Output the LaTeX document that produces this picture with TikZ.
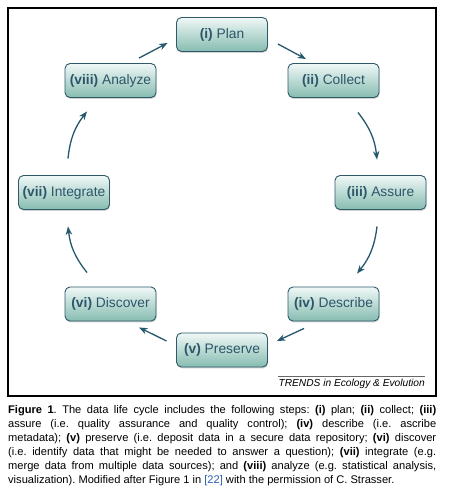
\documentclass[tikz,border=0pt]{standalone}
\usepackage{fontspec}
\setmainfont{Liberation Sans}
\usetikzlibrary{arrows.meta,shadows,calc}
\definecolor{boxtop}{HTML}{F0F8F6}
\definecolor{boxbot}{HTML}{86BCB1}
\definecolor{boxedge}{HTML}{2E5A6A}
\definecolor{boxtext}{HTML}{2C566A}
\definecolor{arrcol}{HTML}{25586C}
\definecolor{refblue}{HTML}{2A5DB0}
\tikzset{
  stepbox/.style={rounded corners=5pt, draw=boxedge, line width=0.9pt,
    top color=boxtop, bottom color=boxbot, minimum width=91pt, minimum height=34pt,
    inner sep=0pt, text=boxtext, font=\fontsize{13.8}{16}\selectfont,
    drop shadow={shadow xshift=0.6pt, shadow yshift=-1.4pt, opacity=0.35}},
  arr/.style={draw=arrcol, line width=1.3pt, -{Stealth[length=8.5pt,width=6.5pt]}}
}
\begin{document}
\begin{tikzpicture}[x=1pt,y=1pt]
\useasboundingbox (0,0) rectangle (448,-498);
\fill[white] (0,0) rectangle (448,-498);
\draw[line width=1.2pt] (8,-8) rectangle (436,-396);

\node[stepbox] (plan) at (222,-34.5) {\textbf{(i)} Plan};
\node[stepbox] (collect) at (333.5,-80.5) {\textbf{(ii)} Collect};
\node[stepbox] (assure) at (380.5,-192.5) {\textbf{(iii)} Assure};
\node[stepbox] (describe) at (333.5,-304) {\textbf{(iv)} Describe};
\node[stepbox] (preserve) at (222,-350) {\textbf{(v)} Preserve};
\node[stepbox] (discover) at (110.5,-304) {\textbf{(vi)} Discover};
\node[stepbox] (integrate) at (64,-192.5) {\textbf{(vii)} Integrate};
\node[stepbox] (analyze) at (110.5,-80.5) {\textbf{(viii)} Analyze};

\draw[arr] ($(plan.east)+(10,-9.5)$) -- ($(collect.north)+(-27.5,4)$);
\draw[arr] ($(collect.south)+(24.5,-14.5)$) to[bend left=16] ($(assure.north)+(-3.5,15.5)$);
\draw[arr] ($(assure.south)+(-3.5,-16.5)$) to[bend left=16] ($(describe.north)+(23.5,13)$);
\draw[arr] ($(describe.south)+(-29.5,-7)$) -- ($(preserve.east)+(9,9)$);
\draw[arr] ($(preserve.west)+(-9.5,9)$) -- ($(discover.south)+(28.5,-6)$);
\draw[arr] ($(discover.north)+(-23.5,14)$) to[bend left=16] ($(integrate.south)+(4,-16.5)$);
\draw[arr] ($(integrate.north)+(4,16.5)$) to[bend left=16] ($(analyze.south)+(-23.5,-13.5)$);
\draw[arr] ($(analyze.north)+(28.5,5)$) -- ($(plan.west)+(-8.5,-8.5)$);

\node[anchor=base east, inner sep=0pt, font=\fontsize{10.2}{12}\selectfont\itshape] (trends) at (425,-386.5) {TRENDS in Ecology \& Evolution};
\draw[line width=0.5pt, black!60] ($(trends.north west)+(0,2.5)$) -- ($(trends.north east)+(0,2.5)$);

\node[anchor=north west, inner sep=0pt, text width=428pt, align=justify,
  font=\fontsize{11.1}{13.9}\selectfont] (caption) at (8,-405.5)
{\frenchspacing\hyphenpenalty=10000\exhyphenpenalty=10000
\textbf{Figure 1}. The data life cycle includes the following steps: \textbf{(i)} plan; \textbf{(ii)} collect; \textbf{(iii)}\linebreak
assure (i.e. quality assurance and quality control); \textbf{(iv)} describe (i.e. ascribe\linebreak
metadata); \textbf{(v)} preserve (i.e. deposit data in a secure data repository; \textbf{(vi)} discover\linebreak
(i.e. identify data that might be needed to answer a question); \textbf{(vii)} integrate (e.g.\linebreak
merge data from multiple data sources); and \textbf{(viii)} analyze (e.g. statistical analysis,\linebreak
visualization). Modified after Figure 1 in {\color{refblue}[22]} with the permission of C. Strasser.};
\end{tikzpicture}
\end{document}
